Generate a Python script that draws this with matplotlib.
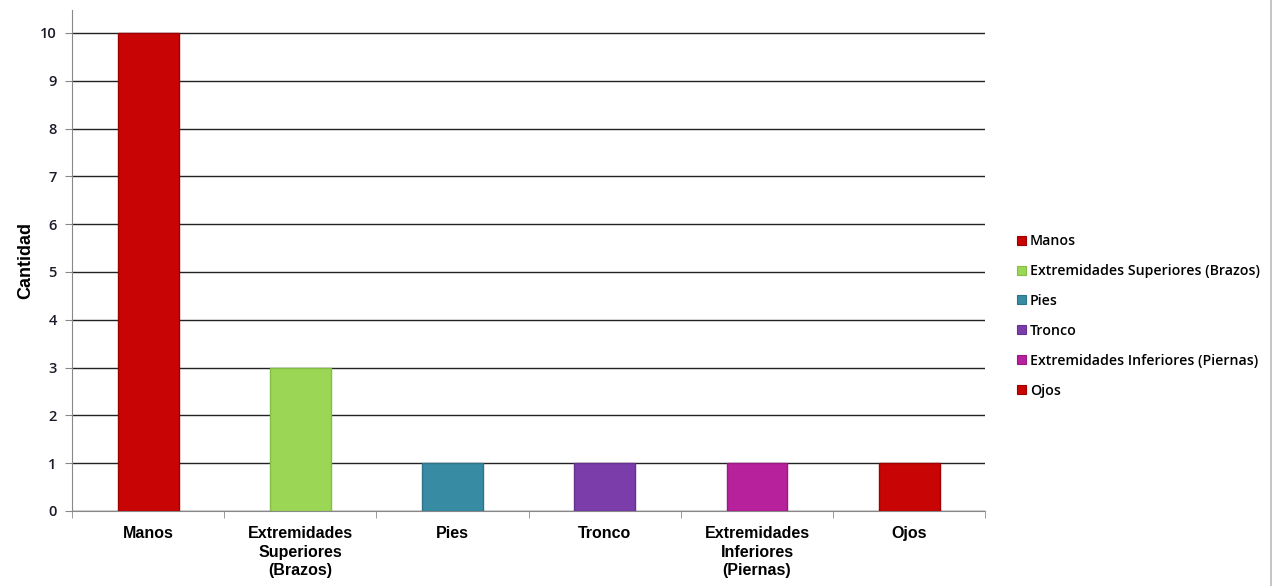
import matplotlib
matplotlib.use("Agg")
import matplotlib.pyplot as plt
from matplotlib.patches import Patch
import numpy as np

categories = ["Manos", "Extremidades\nSuperiores\n(Brazos)", "Pies", "Tronco",
              "Extremidades\nInferiores\n(Piernas)", "Ojos"]
legend_labels = ["Manos", "Extremidades Superiores (Brazos)", "Pies", "Tronco",
                 "Extremidades Inferiores (Piernas)", "Ojos"]
values = [10, 3, 1, 1, 1, 1]
colors = ["#C80404", "#9BD755", "#378BA3", "#7B3DAA", "#B7219C", "#C80404"]
edge_colors = ["#A00000", "#86BD45", "#2E7489", "#66318F", "#981A82", "#A00000"]
yticks = list(range(0, 11))

fig = plt.figure(figsize=(12.81, 5.86), dpi=100)
ax = fig.add_axes([0.0562, 0.128, 0.713, 0.855])

x = np.arange(len(values))
ax.bar(x, values, width=0.4, color=colors, edgecolor=edge_colors, linewidth=1.0, zorder=3)

ax.set_xlim(-0.5, len(values) - 0.5)
ax.set_ylim(0, 10.48)
ax.set_yticks(yticks)
ax.set_yticklabels([str(t) for t in yticks], fontsize=10.5, fontweight="semibold",
                   family="Open Sans", color="#1a1a2a")
ax.yaxis.grid(True, color="#222222", linewidth=1.0, zorder=0)
ax.set_axisbelow(True)

ax.set_xticks(x)
ax.set_xticklabels(categories, fontsize=11.5, fontweight="bold", family="Liberation Sans",
                   linespacing=1.3)
ax.tick_params(axis="x", length=0, pad=11)
ax.set_xticks(np.arange(-0.5, len(values), 1.0), minor=True)
ax.tick_params(axis="x", which="minor", length=5, color="#888888", direction="out")
ax.tick_params(axis="y", length=5, color="#888888", direction="out", pad=6)

for side in ["top", "right"]:
    ax.spines[side].set_visible(False)
ax.spines["left"].set_color("#888888")
ax.spines["bottom"].set_color("#888888")

ax.set_ylabel("Cantidad", fontsize=13, fontweight="bold", family="Liberation Sans", labelpad=4)

handles = [Patch(facecolor=c, edgecolor=e, linewidth=0.8) for c, e in zip(colors, edge_colors)]
leg = fig.legend(handles, legend_labels, loc="center left", bbox_to_anchor=(0.784, 0.461),
                 frameon=False, handlelength=0.6, handleheight=0.6, handletextpad=0.3,
                 labelspacing=1.12, prop={"family": "Open Sans", "weight": "semibold", "size": 10.2})

# window border on the right edge
fig.add_artist(plt.Line2D([0.9925, 0.9925], [0.0, 1.0], transform=fig.transFigure,
                          color="#BBBBBB", linewidth=1.2))

fig.savefig("out.png", dpi=100)
